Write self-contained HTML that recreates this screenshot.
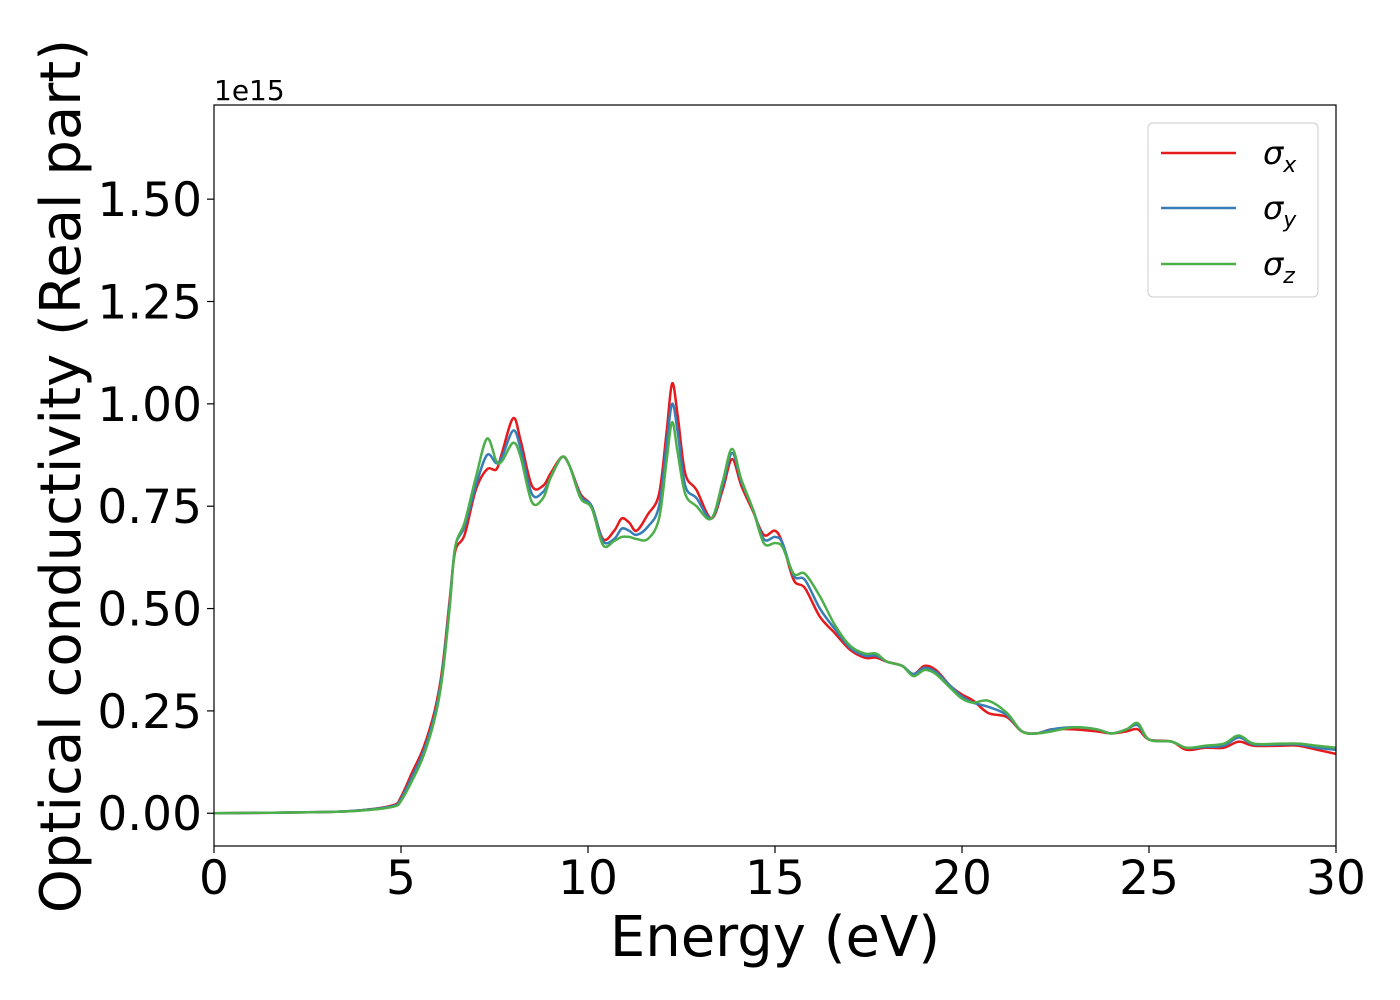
<!DOCTYPE html>
<html><head><meta charset="utf-8"><style>
html,body{margin:0;padding:0;background:#fff;}
svg{display:block;font-family:"DejaVu Sans","Liberation Sans",sans-serif;}
</style></head><body>
<svg id="chart" width="1400" height="1000" viewBox="0 0 1400 1000" xmlns="http://www.w3.org/2000/svg">
<rect width="1400" height="1000" fill="#fff"/>
<g id="series"></g>
<g id="axes"></g>
<text x="214" y="100" font-size="28">1e15</text>
<text x="775" y="956" font-size="56" text-anchor="middle">Energy (eV)</text>
<text transform="translate(80,476) rotate(-90)" font-size="56" text-anchor="middle">Optical conductivity (Real part)</text>
<g>
<rect x="1148" y="123" width="170" height="174" rx="5" fill="#fff" stroke="#ccc" stroke-width="1"/>
<line x1="1161" y1="153" x2="1236" y2="153" stroke="#e41a1c" stroke-width="2.5"/>
<text x="1263" y="164" font-size="32" font-style="italic">σ<tspan font-size="22" dy="8">x</tspan></text>
<line x1="1161" y1="208" x2="1236" y2="208" stroke="#377eb8" stroke-width="2.5"/>
<text x="1263" y="219" font-size="32" font-style="italic">σ<tspan font-size="22" dy="8">y</tspan></text>
<line x1="1161" y1="264" x2="1236" y2="264" stroke="#4daf4a" stroke-width="2.5"/>
<text x="1263" y="275" font-size="32" font-style="italic">σ<tspan font-size="22" dy="8">z</tspan></text>
</g>
</svg>
<script>
const energies = [0,3,4,4.8,5.0,5.3,5.6,5.9,6.1,6.3,6.45,6.7,7.0,7.3,7.55,7.7,8.0,8.2,8.5,8.8,9.0,9.3,9.5,9.8,10.1,10.4,10.7,10.9,11.1,11.3,11.6,11.9,12.1,12.25,12.4,12.6,12.9,13.3,13.6,13.85,14.1,14.4,14.7,15.0,15.2,15.5,15.8,16.2,16.6,17.0,17.4,17.7,18.0,18.4,18.7,19.0,19.3,19.7,20.0,20.3,20.7,21.2,21.6,22.0,22.4,23.0,23.6,24.0,24.4,24.7,25.0,25.6,26.0,26.5,27.0,27.4,27.8,28.5,29.0,29.5,30];
const sigmaX = [0,0.003,0.008,0.02,0.04,0.10,0.16,0.25,0.35,0.52,0.64,0.68,0.79,0.84,0.84,0.88,0.965,0.91,0.80,0.80,0.83,0.87,0.85,0.78,0.75,0.67,0.69,0.72,0.71,0.69,0.73,0.78,0.93,1.05,0.97,0.83,0.79,0.72,0.79,0.865,0.80,0.74,0.68,0.69,0.66,0.57,0.55,0.48,0.44,0.40,0.38,0.38,0.37,0.36,0.34,0.36,0.35,0.31,0.29,0.275,0.245,0.235,0.20,0.195,0.205,0.205,0.20,0.195,0.20,0.205,0.18,0.175,0.155,0.16,0.16,0.175,0.165,0.165,0.165,0.155,0.145];
const sigmaY = [0,0.003,0.008,0.018,0.035,0.09,0.15,0.24,0.34,0.51,0.65,0.70,0.80,0.875,0.855,0.87,0.935,0.89,0.78,0.785,0.82,0.87,0.85,0.775,0.75,0.665,0.67,0.695,0.69,0.68,0.70,0.75,0.90,1.00,0.93,0.80,0.77,0.72,0.80,0.88,0.81,0.745,0.67,0.675,0.66,0.58,0.57,0.50,0.45,0.405,0.385,0.385,0.37,0.36,0.34,0.355,0.345,0.31,0.285,0.27,0.26,0.24,0.20,0.195,0.205,0.21,0.205,0.195,0.205,0.215,0.18,0.175,0.16,0.162,0.165,0.185,0.168,0.168,0.168,0.16,0.155];
const sigmaZ = [0,0.003,0.007,0.016,0.03,0.08,0.14,0.23,0.33,0.50,0.65,0.71,0.82,0.915,0.86,0.86,0.905,0.87,0.76,0.77,0.82,0.87,0.85,0.77,0.745,0.655,0.665,0.675,0.675,0.67,0.67,0.72,0.86,0.955,0.88,0.78,0.75,0.72,0.81,0.89,0.815,0.745,0.66,0.66,0.65,0.585,0.585,0.53,0.46,0.41,0.39,0.39,0.37,0.36,0.335,0.35,0.34,0.305,0.28,0.27,0.275,0.245,0.20,0.195,0.20,0.21,0.205,0.195,0.205,0.22,0.18,0.175,0.16,0.165,0.17,0.19,0.17,0.17,0.17,0.165,0.16];
const xTicks = [0,5,10,15,20,25,30];
const yTicks = [0,0.25,0.5,0.75,1.0,1.25,1.5];
const yTickLabels = ["0.00","0.25","0.50","0.75","1.00","1.25","1.50"];

const X0=214, X1=1336, Y0=105, Y1=846;
const xMin=0, xMax=30, yMin=-0.08, yMax=1.73;
const xs = v => X0 + (v-xMin)/(xMax-xMin)*(X1-X0);
const ys = v => Y1 - (v-yMin)/(yMax-yMin)*(Y1-Y0);
const NS='http://www.w3.org/2000/svg';
function mk(tag, attrs, parent){const e=document.createElementNS(NS,tag);for(const k in attrs)e.setAttribute(k,attrs[k]);parent.appendChild(e);return e;}

function pathFor(vals){
  const p = energies.map((e,i)=>[xs(e),ys(vals[i])]);
  let d='M'+p[0][0].toFixed(2)+','+p[0][1].toFixed(2);
  for(let i=0;i<p.length-1;i++){
    const a=p[Math.max(i-1,0)], b=p[i], c=p[i+1], n=p[Math.min(i+2,p.length-1)];
    const c1=[b[0]+(c[0]-a[0])/6, b[1]+(c[1]-a[1])/6];
    const c2=[c[0]-(n[0]-b[0])/6, c[1]-(n[1]-b[1])/6];
    d+=' C'+c1[0].toFixed(2)+','+c1[1].toFixed(2)+' '+c2[0].toFixed(2)+','+c2[1].toFixed(2)+' '+c[0].toFixed(2)+','+c[1].toFixed(2);
  }
  return d;
}
const sg=document.getElementById('series');
const clip=mk('clipPath',{id:'pc'},sg);
mk('rect',{x:X0,y:Y0,width:X1-X0,height:Y1-Y0},clip);
const lx=mk('path',{d:pathFor(sigmaX),fill:'none',stroke:'#e41a1c','stroke-width':2.5,'clip-path':'url(#pc)'},sg);


const ly=mk('path',{d:pathFor(sigmaY),fill:'none',stroke:'#377eb8','stroke-width':2.5,'clip-path':'url(#pc)'},sg);


const lz=mk('path',{d:pathFor(sigmaZ),fill:'none',stroke:'#4daf4a','stroke-width':2.5,'clip-path':'url(#pc)'},sg);



const ag=document.getElementById('axes');
const frame=mk('rect',{x:X0,y:Y0,width:X1-X0,height:Y1-Y0,fill:'none',stroke:'#000','stroke-width':1.2},ag);


xTicks.forEach(t=>{
  const x=xs(t);
  const tk=mk('line',{x1:x,y1:Y1,x2:x,y2:Y1+7,stroke:'#000','stroke-width':1.2},ag);
  
  
  const tl=mk('text',{x:x,y:Y1+48,'font-size':47,'text-anchor':'middle'},ag);
  tl.textContent=String(t);
  
  
});
yTicks.forEach((t,i)=>{
  const y=ys(t);
  const tk=mk('line',{x1:X0-7,y1:y,x2:X0,y2:y,stroke:'#000','stroke-width':1.2},ag);
  
  
  const tl=mk('text',{x:X0-12,y:y+17,'font-size':47,'text-anchor':'end'},ag);
  tl.textContent=yTickLabels[i];
  
  
});
</script>
</body></html>
